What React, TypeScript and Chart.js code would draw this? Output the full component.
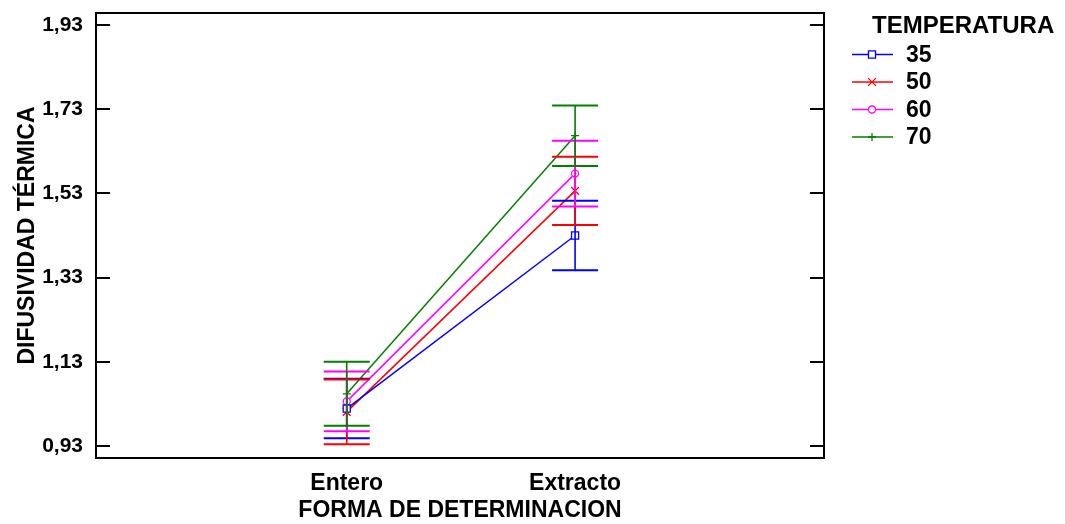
import React, { useEffect, useRef } from 'react';
import { Chart, registerables } from 'chart.js';
Chart.register(...registerables);

const categories = ['Entero', 'Extracto'];
const temperatures = ['35', '50', '60', '70'];
const mean35 = [1.019, 1.430];
const err35 = [0.0705, 0.0824];
const mean50 = [1.011, 1.536];
const err50 = [0.077, 0.081];
const mean60 = [1.036, 1.577];
const err60 = [0.071, 0.078];
const mean70 = [1.054, 1.667];
const err70 = [0.076, 0.072];
const yTicks = [0.93, 1.13, 1.33, 1.53, 1.73, 1.93];

const colors = ['#0000ff', '#ff0000', '#ff00ff', '#008000'];
const pointStyles = ['rect', 'crossRot', 'circle', 'cross'];
const pointRadii = [5, 5.5, 3.5, 4];
const FONT = "'Liberation Sans', Arial, sans-serif";

function drawMarker(ctx: CanvasRenderingContext2D, style: string, x: number, y: number, r: number, color: string) {
  ctx.save();
  ctx.strokeStyle = color;
  ctx.fillStyle = '#fff';
  ctx.lineWidth = 1.3;
  ctx.beginPath();
  if (style === 'rect') {
    const s = Math.SQRT1_2 * r;
    ctx.rect(x - s, y - s, 2 * s, 2 * s);
    ctx.fill();
  } else if (style === 'circle') {
    ctx.arc(x, y, r, 0, Math.PI * 2);
    ctx.fill();
  } else if (style === 'crossRot') {
    const o = Math.SQRT1_2 * r;
    ctx.moveTo(x - o, y - o); ctx.lineTo(x + o, y + o);
    ctx.moveTo(x - o, y + o); ctx.lineTo(x + o, y - o);
  } else {
    ctx.moveTo(x - r, y); ctx.lineTo(x + r, y);
    ctx.moveTo(x, y - r); ctx.lineTo(x, y + r);
  }
  ctx.stroke();
  ctx.restore();
}

const framePlugin = {
  id: 'frameAndBars',
  afterDatasetsDraw(chart: any) {
    const { ctx, chartArea: a, scales } = chart;
    ctx.save();
    // error bars
    chart.data.datasets.forEach((ds: any) => {
      ds.data.forEach((p: any, i: number) => {
        const x = scales.x.getPixelForValue(p.x);
        const yt = scales.y.getPixelForValue(p.y + ds.errors[i]);
        const yb = scales.y.getPixelForValue(p.y - ds.errors[i]);
        ctx.strokeStyle = ds.borderColor;
        ctx.lineWidth = 1.6;
        ctx.beginPath();
        ctx.moveTo(x, yt); ctx.lineTo(x, yb);
        ctx.stroke();
        ctx.lineWidth = 2;
        ctx.beginPath();
        ctx.moveTo(x - 23, yt); ctx.lineTo(x + 23, yt);
        ctx.moveTo(x - 23, yb); ctx.lineTo(x + 23, yb);
        ctx.stroke();
      });
    });
    // frame
    ctx.strokeStyle = '#000';
    ctx.lineWidth = 2;
    ctx.strokeRect(a.left, a.top, a.right - a.left, a.bottom - a.top);
    ctx.beginPath();
    yTicks.forEach((v) => {
      const y = Math.round(scales.y.getPixelForValue(v));
      ctx.moveTo(a.left, y); ctx.lineTo(a.left + 14, y);
      ctx.moveTo(a.right - 14, y); ctx.lineTo(a.right, y);
    });
    ctx.stroke();
    // legend
    const lx = a.right + 28;
    ctx.fillStyle = '#000';
    ctx.textBaseline = 'middle';
    ctx.textAlign = 'left';
    ctx.font = `bold 24px ${FONT}`;
    ctx.fillText('TEMPERATURA', a.right + 48, 26);
    ctx.font = `bold 23px ${FONT}`;
    temperatures.forEach((t, i) => {
      const y = 54.5 + i * 27.5;
      ctx.strokeStyle = colors[i];
      ctx.lineWidth = 1.5;
      ctx.beginPath();
      ctx.moveTo(lx, y); ctx.lineTo(lx + 41, y);
      ctx.stroke();
      drawMarker(ctx, pointStyles[i], lx + 20, y, pointRadii[i], colors[i]);
      ctx.fillStyle = '#000';
      ctx.fillText(t, lx + 54, y + 1);
    });
    ctx.restore();
  },
};

const means = [mean35, mean50, mean60, mean70];
const errs = [err35, err50, err60, err70];

export default function App() {
  const ref = useRef<HTMLCanvasElement>(null);
  useEffect(() => {
    document.body.style.margin = '0';
    const chart = new Chart(ref.current!, {
      type: 'line',
      data: {
        datasets: temperatures.map((t, di) => ({
          label: t,
          data: categories.map((_, i) => ({ x: i + 1, y: means[di][i] })),
          errors: errs[di],
          borderColor: colors[di],
          backgroundColor: colors[di],
          borderWidth: 1.5,
          pointStyle: pointStyles[di],
          pointRadius: pointRadii[di],
          pointBorderWidth: 1.3,
          pointBackgroundColor: '#fff',
          pointBorderColor: colors[di],
          tension: 0,
          fill: false,
        })) as any,
      },
      options: {
        animation: false,
        responsive: false,
        layout: { padding: { left: 0, right: 241, top: 13, bottom: 0 } },
        plugins: { legend: { display: false }, tooltip: { enabled: false } },
        scales: {
          x: {
            type: 'linear',
            min: -0.098,
            max: 3.09,
            grid: { display: false, drawTicks: false },
            border: { display: false },
            afterBuildTicks: (s: any) => { s.ticks = [{ value: 1 }, { value: 2 }]; },
            afterFit: (s: any) => { s.height = 66; s.paddingLeft = 0; s.paddingRight = 0; },
            ticks: {
              callback: (v: any) => categories[Math.round(v) - 1],
              font: { family: FONT, size: 23, weight: 'bold' },
              color: '#000',
              padding: 12,
              autoSkip: false,
              maxRotation: 0,
            },
            title: {
              display: true,
              text: 'FORMA DE DETERMINACION',
              font: { family: FONT, size: 23, weight: 'bold' },
              color: '#000',
              padding: { top: 0, bottom: 0 },
            },
          },
          y: {
            type: 'linear',
            min: 0.9015,
            max: 1.9585,
            grid: { display: false, drawTicks: false },
            border: { display: false },
            afterBuildTicks: (s: any) => { s.ticks = yTicks.map((v) => ({ value: v })); },
            afterFit: (s: any) => { s.width = 96; s.paddingTop = 0; s.paddingBottom = 0; },
            ticks: {
              callback: (v: any) => Number(v).toFixed(2).replace('.', ','),
              font: { family: FONT, size: 21, weight: 'bold' },
              color: '#000',
              padding: 13,
            },
            title: {
              display: true,
              text: 'DIFUSIVIDAD TÉRMICA',
              font: { family: FONT, size: 23, weight: 'bold' },
              color: '#000',
              padding: { top: 14, bottom: 0 },
            },
          },
        },
      },
      plugins: [framePlugin],
    } as any);
    return () => chart.destroy();
  }, []);
  return (
    <div style={{ width: 1065, height: 524, background: '#fff' }}>
      <canvas ref={ref} width={1065} height={524} style={{ display: 'block' }} />
    </div>
  );
}
